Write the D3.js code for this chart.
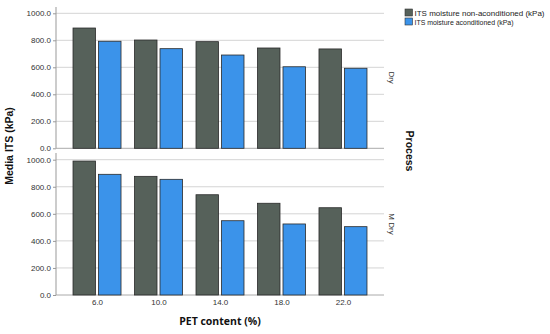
<!DOCTYPE html>
<html><head><meta charset="utf-8">
<script src="https://cdn.jsdelivr.net/npm/d3@7/dist/d3.min.js"></script>
<style>body{margin:0;background:#fff}svg{display:block}</style>
</head><body>
<script>
const categories = ["6.0","10.0","14.0","18.0","22.0"];
const seriesNames = ["ITS moisture non-aconditioned (kPa)","ITS moisture aconditioned (kPa)"];
const dryNon = [891, 802, 790, 743, 736];
const dryAcc = [793, 738, 691, 604, 593];
const mdryNon = [990, 877, 741, 678, 645];
const mdryAcc = [892, 855, 549, 525, 505];
const yTicks = [0, 200, 400, 600, 800, 1000];
const panels = [
  {label: "Dry", non: dryNon, acc: dryAcc},
  {label: "M Dry", non: mdryNon, acc: mdryAcc}
];
const colors = ["#56615a", "#3b93ea"];

const W = 550, H = 334;
const svg = d3.select("body").append("svg").attr("width", W).attr("height", H);
const font = "Liberation Sans, Arial, sans-serif";

const x0 = d3.scalePoint().domain(categories).range([56, 384]).padding(0.667);
const barW = 22.5, gap = 3;

const panelGeo = [{top: 7, y0: 148.3, y1000: 13.3}, {top: 153, y0: 295, y1000: 159.7}];

panels.forEach((p, pi) => {
  const g = panelGeo[pi];
  const y = d3.scaleLinear().domain([0, 1000]).range([g.y0, g.y1000]);
  const gp = svg.append("g");
  gp.selectAll(".grid").data(yTicks).enter().append("line")
    .attr("x1", 56).attr("x2", 384)
    .attr("y1", d => y(d)).attr("y2", d => y(d))
    .attr("stroke", d => d === 0 ? "#aaa" : "#d4d4d4").attr("stroke-width", 1);
  const ax = gp.append("g").attr("transform", "translate(56,0)")
    .call(d3.axisLeft(y).tickValues(yTicks).tickFormat(d3.format(".1f")).tickSize(3).tickPadding(2));
  ax.select(".domain").attr("d", `M0,${g.top}V${g.y0}`).attr("stroke", "#999");
  ax.selectAll(".tick line").attr("stroke", "#999");
  ax.selectAll("text").attr("font-family", font).attr("font-size", 8).attr("fill", "#333");
  const data = categories.map((c, i) => ({c, v: [p.non[i], p.acc[i]]}));
  data.forEach(d => {
    d.v.forEach((v, si) => {
      const xc = x0(d.c);
      const xl = si === 0 ? xc - gap/2 - barW : xc + gap/2;
      gp.append("rect")
        .attr("x", xl).attr("y", y(v)).attr("width", barW).attr("height", y(0) - y(v))
        .attr("fill", colors[si]).attr("stroke", "#2a2a2a").attr("stroke-width", 0.8);
    });
  });
  const cy = (g.top + g.y0) / 2;
  svg.append("text").attr("transform", `translate(389,${cy}) rotate(90)`)
    .attr("text-anchor", "middle").attr("font-family", font).attr("font-size", 8).attr("fill", "#333")
    .text(p.label);
  if (pi === 1) {
    const xa = gp.append("g").attr("transform", `translate(0,${g.y0})`)
      .call(d3.axisBottom(x0).tickSize(0).tickPadding(4));
    xa.select(".domain").remove();
    xa.selectAll("text").attr("font-family", font).attr("font-size", 8).attr("fill", "#333");
  }
});

svg.append("text").attr("x", 220).attr("y", 325).attr("text-anchor", "middle")
  .attr("font-family", "Open Sans, sans-serif").attr("font-weight", "bold").attr("font-size", 10.5)
  .attr("fill", "#111").text("PET content (%)");
svg.append("text").attr("transform", "translate(13,146) rotate(-90)").attr("text-anchor", "middle")
  .attr("font-family", font).attr("font-weight", "bold").attr("font-size", 10.5)
  .attr("fill", "#111").text("Media ITS (kPa)");
svg.append("text").attr("transform", "translate(406,151) rotate(90)").attr("text-anchor", "middle")
  .attr("font-family", font).attr("font-weight", "bold").attr("font-size", 10.5)
  .attr("fill", "#111").text("Process");

const legendWidths = [130, 99];
const lg = svg.append("g").attr("transform", "translate(405,9)");
seriesNames.forEach((n, i) => {
  lg.append("rect").attr("x", 0).attr("y", i * 9).attr("width", 7.5).attr("height", 7)
    .attr("fill", colors[i]).attr("stroke", "#333").attr("stroke-width", 0.6);
  lg.append("text").attr("x", 9.5).attr("y", i * 9 + 6.8)
    .attr("font-family", font).attr("font-size", 8).attr("fill", "#222")
    .attr("textLength", legendWidths[i]).attr("lengthAdjust", "spacingAndGlyphs").text(n);
});
</script>
</body></html>
